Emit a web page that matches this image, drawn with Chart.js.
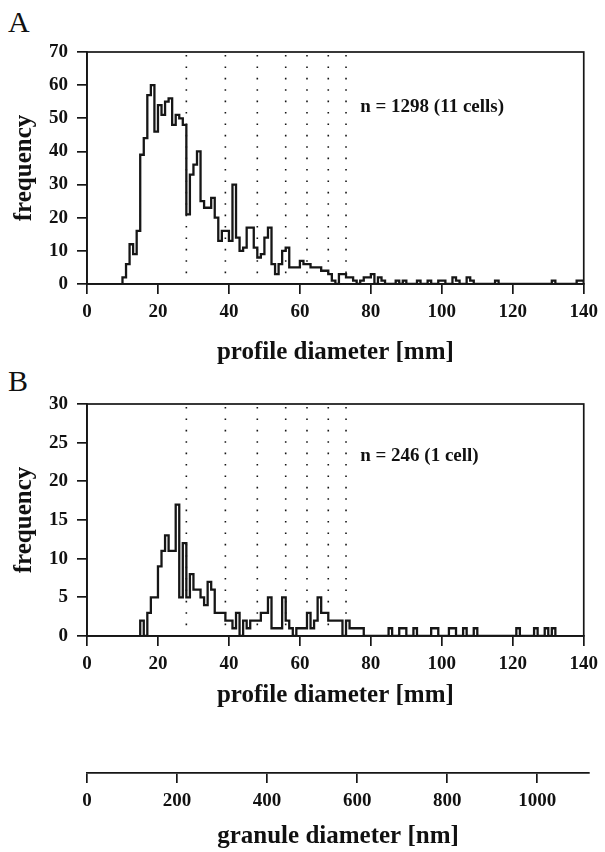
<!doctype html>
<html lang="en">
<head>
<meta charset="UTF-8">
<title>Profile diameter histograms</title>
<script src="https://cdn.jsdelivr.net/npm/chart.js"></script>
<style>
  body { margin: 0; background: #fff; }
  #page { position: relative; width: 605px; height: 852px; }
  canvas { position: absolute; left: 0; }
  .letter { position: absolute; left: 8px; font: 30px 'Liberation Serif', serif; color: #111; line-height: 1; }
</style>
</head>
<body>
<div id="page">
  <div class="letter" style="top:7px">A</div>
  <div class="letter" style="top:366px">B</div>
  <canvas id="histA" width="605" height="370" style="top:0"></canvas>
  <canvas id="histB" width="605" height="370" style="top:352px"></canvas>
  <canvas id="granule" width="605" height="132" style="top:720px"></canvas>
</div>
<script>
  // panel A: 11 cells, 1 mm bins starting at 10 mm
  const binStartA = 10;
  const countsA = [
    2, 6, 12, 9, 16, 39, 44, 57, 60, 46,     // 10-19
    54, 51, 55, 56, 48, 51, 50, 48, 21, 33,  // 20-29
    36, 40, 25, 23, 23, 26, 20, 13, 16, 16,  // 30-39
    13, 30, 14, 10, 11, 17, 17, 11, 8, 9,    // 40-49
    14, 17, 6, 3, 6, 10, 11, 5, 5, 5,        // 50-59
    7, 6, 6, 5, 5, 5, 4, 4, 3, 1,            // 60-69
    0, 3, 3, 2, 2, 1, 0, 1, 2, 2,            // 70-79
    3, 0, 2, 1, 0, 0, 0, 1, 0, 1,            // 80-89
    0, 0, 0, 1, 0, 0, 1, 0, 0, 1,            // 90-99
    1, 0, 0, 2, 1, 0, 0, 2, 1, 0,            // 100-109
    0, 0, 0, 0, 0, 1, 0, 0, 0, 0,            // 110-119
    0, 0, 0, 0, 0, 0, 0, 0, 0, 0,            // 120-129
    0, 1, 0, 0, 0, 0, 0, 0, 1, 1             // 130-139
  ];
  const noteA = 'n = 1298 (11 cells)';

  // panel B: 1 cell, bins starting at 15 mm
  const binStartB = 15;
  const countsB = [
    2, 0, 3, 5, 5, 9, 11, 13, 11, 11,        // 15-24
    17, 5, 12, 5, 8, 6, 6, 5, 4, 7,          // 25-34
    6, 3, 3, 3, 2, 2, 1, 3, 0, 2,            // 35-44
    1, 2, 2, 2, 3, 3, 5, 1, 1, 1,            // 45-54
    5, 2, 1, 0, 1, 1, 1, 3, 1, 2,            // 55-64
    5, 3, 3, 2, 2, 2, 2, 0, 2, 1,            // 65-74
    1, 1, 1, 0, 0, 0, 0, 0, 0, 0,            // 75-84
    1, 0, 0, 1, 1, 0, 0, 1, 0, 0,            // 85-94
    0, 0, 1, 1, 0, 0, 0, 1, 1, 0,            // 95-104
    0, 1, 0, 0, 1, 0, 0, 0, 0, 0,            // 105-114
    0, 0, 0, 0, 0, 0, 1, 0, 0, 0,            // 115-124
    0, 1, 0, 0, 1, 0, 1                      // 125-131
  ];
  const noteB = 'n = 246 (1 cell)';

  // dotted reference diameters (mm)
  const guideDiameters = [28, 39, 48, 56, 62, 68, 73];

  const ink = '#161616';
  const serif = 'Liberation Serif';
  const tickFont = {family: serif, size: 19, weight: 'bold'};
  const titleFont = {family: serif, size: 25, weight: 'bold'};

  function histPoints(start, counts) {
    const pts = [{x: start, y: 0}];
    counts.forEach((c, i) => pts.push({x: start + i, y: c}));
    pts.push({x: start + counts.length, y: 0});
    return pts;
  }

  const frame = {
    id: 'frame',
    afterDraw(chart) {
      const {ctx, chartArea: a} = chart;
      ctx.save();
      ctx.strokeStyle = ink;
      ctx.lineWidth = 1.7;
      ctx.strokeRect(a.left, a.top, a.right - a.left, a.bottom - a.top);
      ctx.restore();
    }
  };

  const note = {
    id: 'note',
    afterDraw(chart, args, opts) {
      const {ctx, scales} = chart;
      ctx.save();
      ctx.font = 'bold 19px "Liberation Serif"';
      ctx.fillStyle = '#111';
      ctx.textBaseline = 'middle';
      ctx.fillText(opts.text, scales.x.getPixelForValue(opts.x), scales.y.getPixelForValue(opts.y));
      ctx.restore();
    }
  };

  function axisStyle() {
    return {
      grid: {drawOnChartArea: false, color: ink, lineWidth: 1.7, tickLength: 10},
      border: {color: ink, width: 1.7}
    };
  }

  function histChart(id, start, counts, yMax, yStep, text, noteY, titlePad) {
    const guides = guideDiameters.map(d => ({
      data: [{x: d, y: yMax}, {x: d, y: 0}],
      borderColor: ink,
      borderWidth: 1.6,
      borderDash: [1.6, 9.8],
      borderDashOffset: -3
    }));
    return new Chart(document.getElementById(id), {
      type: 'line',
      data: {
        datasets: [{
          data: histPoints(start, counts),
          borderColor: ink,
          borderWidth: 2.3,
          stepped: 'before',
          borderJoinStyle: 'miter'
        }, ...guides]
      },
      options: {
        responsive: false,
        animation: false,
        devicePixelRatio: 1,
        layout: {padding: {left: 0, right: 16, top: 52, bottom: 0}},
        elements: {point: {radius: 0}},
        plugins: {legend: {display: false}, tooltip: {enabled: false}, note: {text: text, x: 77, y: noteY}},
        scales: {
          x: {
            type: 'linear', min: 0, max: 140,
            ticks: {stepSize: 20, color: '#111', font: tickFont, padding: 7, maxRotation: 0},
            ...axisStyle(),
            title: {display: true, text: 'profile diameter [mm]', color: '#111', font: titleFont, padding: {top: 0, bottom: titlePad}},
            afterFit(s) { s.height = 86; }
          },
          y: {
            min: 0, max: yMax,
            ticks: {stepSize: yStep, color: '#111', font: tickFont, padding: 9},
            ...axisStyle(),
            title: {display: true, text: 'frequency', color: '#111', font: titleFont, padding: {top: 10, bottom: 0}},
            afterFit(s) { s.width = 87; }
          }
        }
      },
      plugins: [frame, note]
    });
  }

  histChart('histA', binStartA, countsA, 70, 10, noteA, 53.4, 2);
  histChart('histB', binStartB, countsB, 30, 5, noteB, 23.3, 11);

  // granule diameter scale under panel B
  new Chart(document.getElementById('granule'), {
    type: 'line',
    data: {datasets: []},
    options: {
      responsive: false,
      animation: false,
      devicePixelRatio: 1,
      layout: {padding: {left: 87, right: 16, top: 43, bottom: 0}},
      plugins: {legend: {display: false}, tooltip: {enabled: false}},
      scales: {
        x: {
          type: 'linear', min: 0, max: 1115,
          ticks: {stepSize: 200, includeBounds: false, color: '#111', font: tickFont, padding: 7, maxRotation: 0, callback: v => v},
          ...axisStyle(),
          title: {display: true, text: 'granule diameter [nm]', color: '#111', font: titleFont, padding: {top: 0, bottom: 0}},
          afterFit(s) { s.height = 79; }
        },
        y: {display: false, min: 0, max: 1}
      }
    }
  });
</script>
</body>
</html>
